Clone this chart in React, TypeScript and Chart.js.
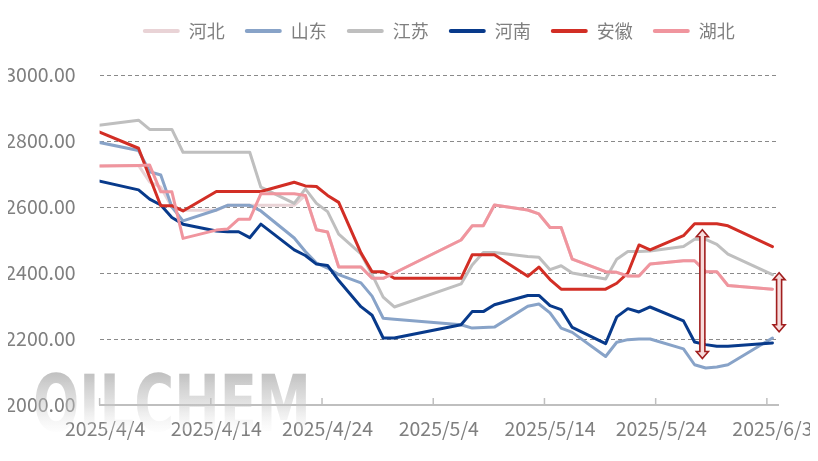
import React, { useEffect, useRef } from "react";
import { Chart, registerables } from "chart.js";

Chart.register(...registerables);

// ---------- data ----------
const dates = [
  "2025/4/3", "2025/4/7", "2025/4/8", "2025/4/9", "2025/4/10", "2025/4/11",
  "2025/4/14", "2025/4/15", "2025/4/16", "2025/4/17", "2025/4/18",
  "2025/4/21", "2025/4/22", "2025/4/23", "2025/4/24", "2025/4/25",
  "2025/4/27", "2025/4/28", "2025/4/29", "2025/4/30",
  "2025/5/6", "2025/5/7", "2025/5/8", "2025/5/9",
  "2025/5/12", "2025/5/13", "2025/5/14", "2025/5/15", "2025/5/16",
  "2025/5/19", "2025/5/20", "2025/5/21", "2025/5/22", "2025/5/23",
  "2025/5/26", "2025/5/27", "2025/5/28", "2025/5/29", "2025/5/30",
  "2025/6/3",
];

const seriesNames = ["河北", "山东", "江苏", "河南", "安徽", "湖北"];

const hebei = [
  2724, 2726, 2676, 2660, 2600, 2590, 2590, 2605, 2605, 2605, 2605,
  2605, 2635, 2531, 2524, 2418, 2418, 2384, 2384, 2400,
  2500, 2543, 2543, 2606, 2591, 2579, 2538, 2538, 2442,
  2404, 2402, 2391, 2391, 2427, 2437, 2437, 2404, 2404, 2362, 2351,
];
const shandong = [
  2799, 2771, 2707, 2697, 2600, 2558, 2591, 2605, 2605, 2605, 2588,
  2506, 2465, 2430, 2415, 2395, 2370, 2330, 2263, 2260,
  2243, 2233, 2235, 2236, 2299, 2306, 2279, 2233, 2220,
  2147, 2190, 2198, 2200, 2200, 2170, 2122, 2112, 2115, 2122, 2203,
];
const jiangsu = [
  2846, 2863, 2835, 2835, 2835, 2766, 2766, 2766, 2766, 2766, 2660,
  2611, 2655, 2611, 2586, 2518, 2458, 2395, 2327, 2297,
  2367, 2424, 2462, 2462, 2450, 2448, 2410, 2422, 2400,
  2382, 2442, 2465, 2465, 2467, 2480, 2502, 2502, 2487, 2457, 2395,
];
const henan = [
  2682, 2652, 2624, 2606, 2568, 2548, 2527, 2525, 2525, 2507, 2548,
  2470, 2453, 2427, 2423, 2377, 2298, 2272, 2203, 2203,
  2243, 2283, 2283, 2304, 2332, 2332, 2301, 2289, 2235,
  2186, 2267, 2292, 2282, 2297, 2255, 2191, 2183, 2178, 2178, 2188,
];
const anhui = [
  2834, 2778, 2690, 2604, 2604, 2588, 2647, 2647, 2647, 2647, 2647,
  2675, 2664, 2662, 2635, 2614, 2461, 2404, 2404, 2384,
  2384, 2455, 2455, 2455, 2390, 2418, 2380, 2351, 2351,
  2351, 2369, 2400, 2485, 2470, 2513, 2549, 2549, 2549, 2543, 2480,
];
const hubei = [
  2724, 2726, 2727, 2646, 2646, 2505, 2530, 2533, 2563, 2563, 2640,
  2640, 2635, 2531, 2524, 2418, 2418, 2384, 2384, 2400,
  2500, 2543, 2543, 2606, 2591, 2579, 2538, 2538, 2442,
  2404, 2402, 2391, 2391, 2427, 2437, 2437, 2404, 2404, 2362, 2351,
];

const seriesValues = [hebei, shandong, jiangsu, henan, anhui, hubei];
const seriesColors = ["#e9d3d6", "#88a3c8", "#bfbfbf", "#083a8b", "#d22e25", "#f0959e"];

const xTickDates = ["2025/4/4", "2025/4/14", "2025/4/24", "2025/5/4", "2025/5/14", "2025/5/24", "2025/6/3"];
const yTickValues = [2000, 2200, 2400, 2600, 2800, 3000];

// double-headed arrow annotations (day offset from 2025/4/4, top value, bottom value)
const arrowDay = [53.7, 60.6];
const arrowTop = [2531, 2401];
const arrowBottom = [2141, 2222];

// ---------- helpers ----------
const BASE = Date.UTC(2025, 3, 4);
function dayIndex(s: string): number {
  const [y, m, d] = s.split("/").map(Number);
  return Math.round((Date.UTC(y, m - 1, d) - BASE) / 86400000);
}
function labelFor(v: number): string {
  const t = new Date(BASE + Math.round(v) * 86400000);
  return `${t.getUTCFullYear()}/${t.getUTCMonth() + 1}/${t.getUTCDate()}`;
}

const FONT = '"Noto Sans CJK SC", "Noto Sans", sans-serif';
const TEXT_COLOR = "#7f7f7f";

const layoutPatch = {
  id: "layoutPatch",
  beforeLayout(chart: any) {
    const lg = chart.legend;
    if (lg && !lg.__patched) {
      const orig = lg.fit;
      lg.fit = function () {
        orig.call(this);
        this.height = 73;
      };
      lg.__patched = true;
    }
  },
};

const watermark = {
  id: "watermark",
  beforeDatasetsDraw(chart: any) {
    const ctx = chart.ctx;
    ctx.save();
    ctx.font = `bold 78px "DejaVu Sans", sans-serif`;
    const w = ctx.measureText("OILCHEM").width;
    ctx.translate(33, 431);
    ctx.scale(278 / w, 1);
    const g = ctx.createLinearGradient(0, -58, 0, 4);
    g.addColorStop(0, "rgba(150,150,150,0.6)");
    g.addColorStop(0.55, "rgba(200,200,200,0.45)");
    g.addColorStop(1, "rgba(250,250,250,0.15)");
    ctx.fillStyle = g;
    ctx.textBaseline = "alphabetic";
    ctx.fillText("OILCHEM", 0, 0);
    ctx.restore();
  },
};

// tick marks sit on the day boundaries (half a day before each labelled date)
const axisTicks = {
  id: "axisTicks",
  afterDraw(chart: any) {
    const xs = chart.scales.x;
    const ctx = chart.ctx;
    ctx.save();
    ctx.strokeStyle = "#bfbfbf";
    ctx.lineWidth = 1.5;
    xs.ticks.forEach((t: any) => {
      const px = xs.getPixelForValue(t.value - 0.5);
      ctx.beginPath();
      ctx.moveTo(px, xs.top);
      ctx.lineTo(px, xs.top - 7);
      ctx.stroke();
    });
    ctx.restore();
  },
};

const arrows = {
  id: "arrows",
  afterDatasetsDraw(chart: any) {
    const xs = chart.scales.x;
    const ys = chart.scales.y;
    const ctx = chart.ctx;
    ctx.save();
    for (let i = 0; i < arrowDay.length; i++) {
      const x = xs.getPixelForValue(arrowDay[i]);
      const yt = ys.getPixelForValue(arrowTop[i]);
      const yb = ys.getPixelForValue(arrowBottom[i]);
      const hw = 6, sw = 2.5, hh = 7;
      ctx.beginPath();
      ctx.moveTo(x, yt);
      ctx.lineTo(x + hw, yt + hh);
      ctx.lineTo(x + sw, yt + hh);
      ctx.lineTo(x + sw, yb - hh);
      ctx.lineTo(x + hw, yb - hh);
      ctx.lineTo(x, yb);
      ctx.lineTo(x - hw, yb - hh);
      ctx.lineTo(x - sw, yb - hh);
      ctx.lineTo(x - sw, yt + hh);
      ctx.lineTo(x - hw, yt + hh);
      ctx.closePath();
      ctx.fillStyle = "#f7dcdc";
      ctx.fill();
      ctx.strokeStyle = "#a11f1f";
      ctx.lineWidth = 1.6;
      ctx.lineJoin = "miter";
      ctx.stroke();
    }
    ctx.restore();
  },
};

export default function App() {
  const ref = useRef<HTMLCanvasElement | null>(null);

  useEffect(() => {
    if (!ref.current) return;
    const datasets = seriesNames.map((name, i) => ({
      label: name,
      data: dates.map((d, j) => ({ x: dayIndex(d), y: seriesValues[i][j] })),
      borderColor: seriesColors[i],
      backgroundColor: seriesColors[i],
      borderWidth: 3,
      pointRadius: 0,
      pointHoverRadius: 0,
      tension: 0,
      fill: false,
      spanGaps: true,
      borderJoinStyle: "round" as const,
      borderCapStyle: "round" as const,
      order: seriesNames.length - 1 - i,
    }));

    const chart = new Chart(ref.current, {
      type: "line",
      data: { datasets },
      options: {
        animation: false,
        responsive: true,
        maintainAspectRatio: false,
        layout: { padding: { left: 0, right: 40, top: 2, bottom: 0 } },
        plugins: {
          tooltip: { enabled: false },
          legend: {
            position: "top",
            align: "center",
            fullSize: false,
            labels: {
              boxWidth: 37,
              boxHeight: 4,
              padding: 20,
              color: TEXT_COLOR,
              font: { family: FONT, size: 18 },
              useBorderRadius: true,
              borderRadius: 2,
              sort: (a: any, b: any) => a.datasetIndex - b.datasetIndex,
              generateLabels: (c: any) =>
                Chart.defaults.plugins.legend.labels
                  .generateLabels(c)
                  .map((l: any) => ({ ...l, lineWidth: 0, fillStyle: seriesColors[l.datasetIndex] })),
            },
          },
        },
        scales: {
          x: {
            type: "linear",
            min: -0.5,
            max: 60.5,
            afterBuildTicks: (s: any) => {
              s.ticks = xTickDates.map((d) => ({ value: dayIndex(d) }));
            },
            afterFit: (s: any) => {
              s.height = 56;
              s.paddingLeft = 0;
              s.paddingRight = 0;
            },
            grid: { display: false, drawTicks: false },
            border: { display: true, color: "#bfbfbf", width: 2 },
            ticks: {
              autoSkip: false,
              maxRotation: 0,
              minRotation: 0,
              padding: 12,
              color: TEXT_COLOR,
              font: { family: FONT, size: 19.5 },
              callback: (v: any) => labelFor(Number(v)),
            },
          },
          y: {
            min: 2000,
            max: 3000,
            afterBuildTicks: (s: any) => {
              s.ticks = yTickValues.map((v) => ({ value: v }));
            },
            afterFit: (s: any) => {
              s.width = 99.6;
              s.paddingTop = 0;
              s.paddingBottom = 0;
            },
            grid: {
              drawTicks: false,
              lineWidth: 1,
              color: (c: any) => (c.tick && c.tick.value === 2000 ? "rgba(0,0,0,0)" : "#8a8a8a"),
            },
            border: { display: false, dash: [4, 3] },
            ticks: {
              padding: 24,
              color: TEXT_COLOR,
              font: { family: FONT, size: 19.5 },
              callback: (v: any) => Number(v).toFixed(2),
            },
          },
        },
      },
      plugins: [layoutPatch, watermark, axisTicks, arrows],
    });
    return () => chart.destroy();
  }, []);

  return (
    <div style={{ position: "relative", width: "818px", height: "461px", margin: "-8px" }}>
      <canvas ref={ref} />
    </div>
  );
}
